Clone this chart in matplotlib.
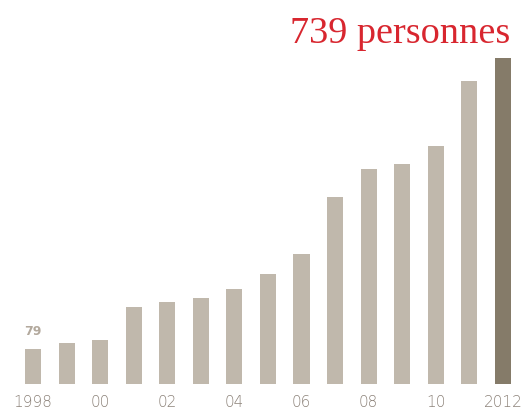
import matplotlib
matplotlib.use('Agg')
import matplotlib.pyplot as plt
import numpy as np

# data
years = list(range(1998, 2013))
values = [79, 94, 100, 175, 186, 195, 215, 249, 295, 424, 487, 499, 540, 686, 739]
tick_years = [1998, 2000, 2002, 2004, 2006, 2008, 2010, 2012]
tick_labels = ['1998', '00', '02', '04', '06', '08', '10', '2012']

light = '#c0b8ac'
dark = '#857b69'
red = '#d8262f'
grey_txt = '#8c8279'

fig = plt.figure(figsize=(5.21, 4.09), dpi=100)
ax = fig.add_axes([0, 0, 1, 1])

x = np.arange(len(years))
colors = [light] * (len(years) - 1) + [dark]
ax.bar(x, values, width=0.48, color=colors)

# map data to pixels: 33.57 px per bar, 0.4411 px per person
ax.set_xlim(-0.983, 14.537)
ax.set_ylim(-56.7, 870.5)

for yr, lab in zip(tick_years, tick_labels):
    ax.text(years.index(yr), -43, lab, ha='center', va='center',
            fontsize=11, fontweight='light', color=grey_txt, family='DejaVu Sans')

ax.text(0, values[0] + 26, str(values[0]), ha='center', va='bottom',
        fontsize=9, fontweight='bold', color='#b3a99d', family='DejaVu Sans')

ax.text(14.21, 773, f'{values[-1]} personnes', ha='right', va='baseline',
        fontsize=27.5, color=red, family='Liberation Serif')

ax.axis('off')
fig.savefig('out.png', dpi=100)
